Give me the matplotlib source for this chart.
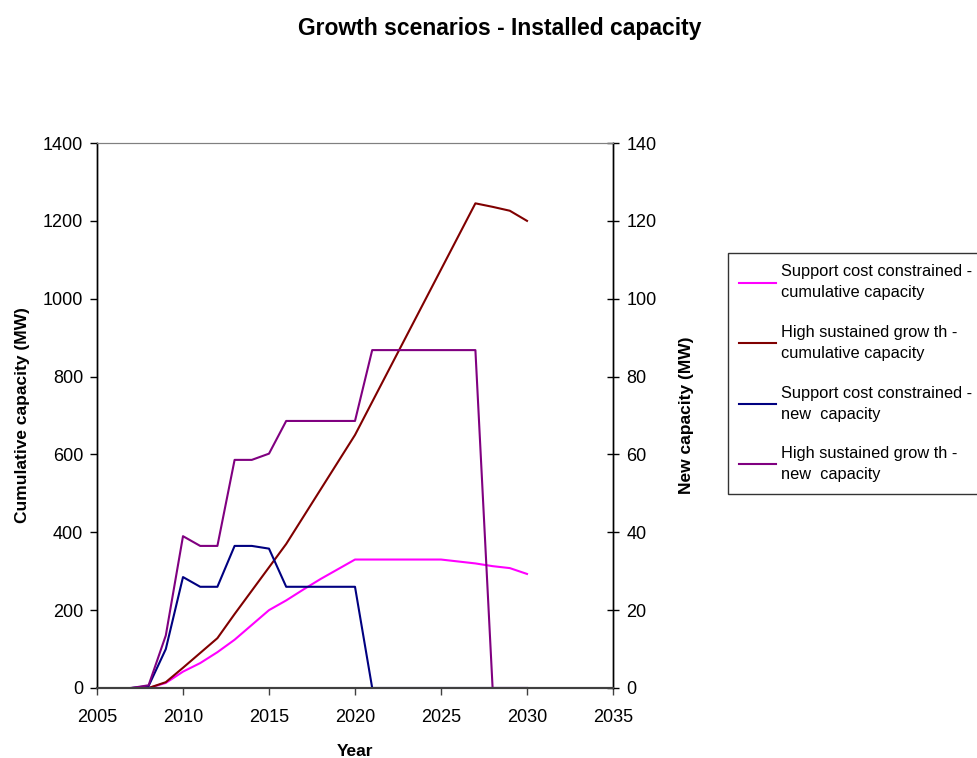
import matplotlib
matplotlib.use("Agg")
import matplotlib.pyplot as plt

plt.rcParams['font.family'] = ['Liberation Sans', 'DejaVu Sans']

years = list(range(2007, 2031))

# Cumulative installed capacity (MW), left axis
support_cum = [0, 0, 13, 42, 64, 92, 124, 162, 200, 225, 253, 280, 305, 330,
               330, 330, 330, 330, 330, 325, 320, 313, 308, 293]
high_cum = [0, 0, 15, 52, 90, 128, 190, 250, 310, 370, 440, 510, 580, 650,
            735, 820, 905, 990, 1075, 1160, 1245, 1236, 1226, 1200]

# New capacity per year (MW), right axis
support_new = [0, 0.5, 10, 28.5, 26, 26, 36.5, 36.5, 35.8, 26, 26, 26, 26, 26,
               0, 0, 0, 0, 0, 0, 0, 0, 0, 0]
high_new = [0, 0.7, 13.5, 39, 36.5, 36.5, 58.6, 58.6, 60.2, 68.6, 68.6, 68.6, 68.6, 68.6,
            86.8, 86.8, 86.8, 86.8, 86.8, 86.8, 86.8, 0, 0, 0]

labels = ["Support cost constrained -\ncumulative capacity",
          "High sustained grow th -\ncumulative capacity",
          "Support cost constrained -\nnew  capacity",
          "High sustained grow th -\nnew  capacity"]
colors = ["#FF00FF", "#800000", "#000080", "#800080"]

fig = plt.figure(figsize=(9.78, 7.58), dpi=100)
ax = fig.add_axes([97/978, 1-688/758, (613-97)/978, (688-143)/758])
ax2 = ax.twinx()

l1, = ax.plot(years, support_cum, color=colors[0], lw=1.5)
l2, = ax.plot(years, high_cum, color=colors[1], lw=1.5)
l3, = ax2.plot(years, support_new, color=colors[2], lw=1.5)
l4, = ax2.plot(years, high_new, color=colors[3], lw=1.5)

ax.set_xlim(2005, 2035)
ax.set_ylim(0, 1400)
ax2.set_ylim(0, 140)
ax.set_xticks(range(2005, 2036, 5))
ax.set_yticks(range(0, 1401, 200))
ax2.set_yticks(range(0, 141, 20))

for a in (ax, ax2):
    a.spines['top'].set_color('#808080')
    a.spines['top'].set_linewidth(0.8)
    a.spines['bottom'].set_color('#404040')
    a.spines['bottom'].set_linewidth(1.5)
    a.spines['left'].set_color('black')
    a.spines['right'].set_color('black')
    a.spines['left'].set_linewidth(1.0)
    a.spines['right'].set_linewidth(1.0)

ax.tick_params(axis='x', direction='out', length=5, width=1, labelsize=13, pad=10, color='#404040')
ax.tick_params(axis='y', direction='out', length=5, width=1, labelsize=13, pad=5)
ax2.tick_params(axis='y', direction='inout', length=9, width=1, labelsize=13, pad=5)

ax.set_xlabel("Year", fontsize=12.5, fontweight='bold', labelpad=13)
ax.set_ylabel("Cumulative capacity (MW)", fontsize=12.5, fontweight='bold', labelpad=9)
ax2.set_ylabel("New capacity (MW)", fontsize=12.5, fontweight='bold', labelpad=16)

fig.text(0.511, 1-28/758, "Growth scenarios - Installed capacity",
         ha='center', va='center', fontsize=16.5, fontweight='bold')

leg = fig.legend([l1, l2, l3, l4], labels, loc='upper left',
                 bbox_to_anchor=(728/978, 1-253/758), fontsize=11.8,
                 frameon=True, fancybox=False, edgecolor='black',
                 handlelength=2.25, handletextpad=0.3, labelspacing=1.5,
                 borderpad=0.7, borderaxespad=0)
leg.get_frame().set_linewidth(1.0)
for t in leg.get_texts():
    t.set_linespacing(1.5)

fig.savefig("out.png", dpi=100)
